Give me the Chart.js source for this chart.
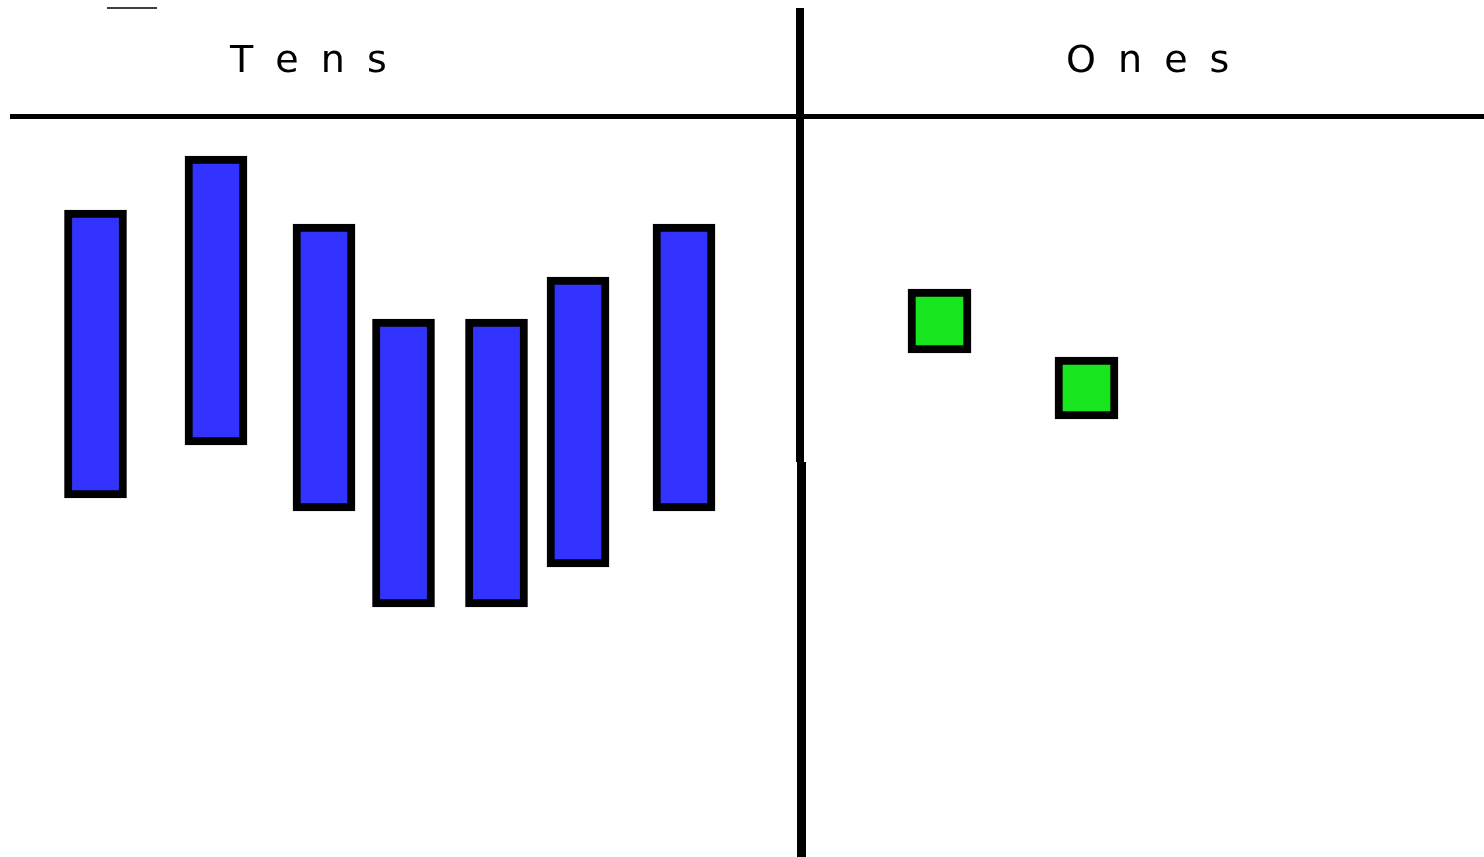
<!DOCTYPE html>
<html>
<head>
<meta charset="utf-8">
<title>Tens and Ones</title>
<script src="https://cdn.jsdelivr.net/npm/chart.js@4.4.1/dist/chart.umd.min.js"></script>
<style>
  html, body { margin: 0; padding: 0; background: #fff; }
  canvas { display: block; }
</style>
</head>
<body>
<canvas id="placeValueChart" width="1484" height="857"></canvas>
<script>
// Column headings
const headings = ['T e n s', 'O n e s'];
const headingX = [230, 1066];   // left edge of each heading
const headingY = 72;            // baseline

// Tens rods: centre x and [top, bottom]
const rodX = [95.5, 216, 324, 403.5, 496.5, 578, 684];
const rodY = [[210, 498], [156, 445], [224, 511], [319, 607], [319, 607], [277, 567], [224, 511]];

// Ones cubes: centre x and [top, bottom]
const cubeX = [939.5, 1086.5];
const cubeY = [[289, 353], [357, 419]];

// Chart rule lines
const headerRule = [[10, 116.5], [1484, 116.5]];
const dividerTop = [[800, 8], [800, 462]];
const dividerBottom = [[801.5, 462], [801.5, 857]];
const stubLine = [[107, 8], [157, 8]];

const toPoints = arr => arr.map(p => ({ x: p[0], y: p[1] }));

function lineSet(points, width) {
    return {
        type: 'line',
        data: toPoints(points),
        borderColor: '#000',
        borderWidth: width,
        borderCapStyle: 'butt',
        pointRadius: 0,
        tension: 0,
        fill: false,
        clip: false
    };
}

// draws the headings using the chart scales
const headingPlugin = {
    id: 'headings',
    afterDatasetsDraw(chart) {
        const { ctx, scales } = chart;
        ctx.save();
        ctx.fillStyle = '#000';
        ctx.font = '38px "DejaVu Sans"';
        ctx.textBaseline = 'alphabetic';
        ctx.textAlign = 'left';
        ctx.letterSpacing = '5px';
        headings.forEach((h, i) => {
            ctx.fillText(h, scales.x.getPixelForValue(headingX[i]), scales.y.getPixelForValue(headingY));
        });
        ctx.restore();
    }
};

const ctx = document.getElementById('placeValueChart').getContext('2d');
new Chart(ctx, {
    type: 'bar',
    data: {
        datasets: [
            {
                label: 'Tens',
                data: rodX.map((x, i) => ({ x: x, y: rodY[i] })),
                backgroundColor: '#3333ff',
                borderColor: '#000',
                borderWidth: 8,
                borderSkipped: false,
                barThickness: 62,
                grouped: false,
                clip: false
            },
            {
                label: 'Ones',
                data: cubeX.map((x, i) => ({ x: x, y: cubeY[i] })),
                backgroundColor: '#17e61f',
                borderColor: '#000',
                borderWidth: 8,
                borderSkipped: false,
                barThickness: 63,
                grouped: false,
                clip: false
            },
            lineSet(headerRule, 5),
            lineSet(dividerTop, 8),
            lineSet(dividerBottom, 9),
            lineSet(stubLine, 1.5)
        ]
    },
    options: {
        responsive: false,
        animation: false,
        layout: { padding: 0 },
        plugins: { legend: { display: false }, tooltip: { enabled: false } },
        scales: {
            x: { type: 'linear', min: 0, max: 1484, offset: false, display: false },
            y: { type: 'linear', min: 0, max: 857, reverse: true, display: false }
        }
    },
    plugins: [headingPlugin]
});
</script>
</body>
</html>
